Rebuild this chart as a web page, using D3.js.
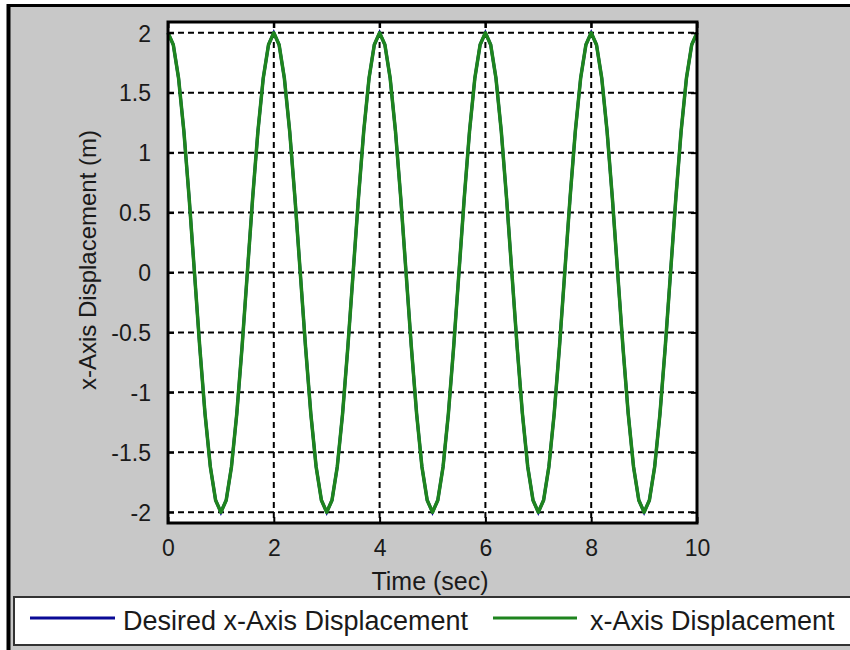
<!DOCTYPE html>
<html>
<head>
<meta charset="utf-8">
<script src="https://cdn.jsdelivr.net/npm/d3@7"></script>
<style>
  body { margin: 0; background: #ffffff; }
  text { font-family: "Liberation Sans", Arial, sans-serif; fill: #1a1a1a; }
</style>
</head>
<body>
<div id="elements"></div>
<script>
// time samples (sec)
var timeSec = [0,0.1,0.2,0.3,0.4,0.5,0.6,0.7,0.8,0.9,1,1.1,1.2,1.3,1.4,1.5,1.6,1.7,1.8,1.9,
  2,2.1,2.2,2.3,2.4,2.5,2.6,2.7,2.8,2.9,3,3.1,3.2,3.3,3.4,3.5,3.6,3.7,3.8,3.9,
  4,4.1,4.2,4.3,4.4,4.5,4.6,4.7,4.8,4.9,5,5.1,5.2,5.3,5.4,5.5,5.6,5.7,5.8,5.9,
  6,6.1,6.2,6.3,6.4,6.5,6.6,6.7,6.8,6.9,7,7.1,7.2,7.3,7.4,7.5,7.6,7.7,7.8,7.9,
  8,8.1,8.2,8.3,8.4,8.5,8.6,8.7,8.8,8.9,9,9.1,9.2,9.3,9.4,9.5,9.6,9.7,9.8,9.9,10];

// desired x displacement (m)
var desiredX = [2,1.9,1.62,1.18,0.62,0,-0.62,-1.18,-1.62,-1.9,-2,-1.9,-1.62,-1.18,-0.62,0,0.62,1.18,1.62,1.9,
  2,1.9,1.62,1.18,0.62,0,-0.62,-1.18,-1.62,-1.9,-2,-1.9,-1.62,-1.18,-0.62,0,0.62,1.18,1.62,1.9,
  2,1.9,1.62,1.18,0.62,0,-0.62,-1.18,-1.62,-1.9,-2,-1.9,-1.62,-1.18,-0.62,0,0.62,1.18,1.62,1.9,
  2,1.9,1.62,1.18,0.62,0,-0.62,-1.18,-1.62,-1.9,-2,-1.9,-1.62,-1.18,-0.62,0,0.62,1.18,1.62,1.9,
  2,1.9,1.62,1.18,0.62,0,-0.62,-1.18,-1.62,-1.9,-2,-1.9,-1.62,-1.18,-0.62,0,0.62,1.18,1.62,1.9,2];

// actual x displacement (m), sits right on top of the desired one
var actualX = [2,1.9,1.62,1.18,0.62,0,-0.62,-1.18,-1.62,-1.9,-2,-1.9,-1.62,-1.18,-0.62,0,0.62,1.18,1.62,1.9,
  2,1.9,1.62,1.18,0.62,0,-0.62,-1.18,-1.62,-1.9,-2,-1.9,-1.62,-1.18,-0.62,0,0.62,1.18,1.62,1.9,
  2,1.9,1.62,1.18,0.62,0,-0.62,-1.18,-1.62,-1.9,-2,-1.9,-1.62,-1.18,-0.62,0,0.62,1.18,1.62,1.9,
  2,1.9,1.62,1.18,0.62,0,-0.62,-1.18,-1.62,-1.9,-2,-1.9,-1.62,-1.18,-0.62,0,0.62,1.18,1.62,1.9,
  2,1.9,1.62,1.18,0.62,0,-0.62,-1.18,-1.62,-1.9,-2,-1.9,-1.62,-1.18,-0.62,0,0.62,1.18,1.62,1.9,2];

var xTicks = [0, 2, 4, 6, 8, 10];
var yTicks = [-2, -1.5, -1, -0.5, 0, 0.5, 1, 1.5, 2];
var seriesNames = ["Desired x-Axis Displacement", "x-Axis Displacement"];
var seriesColors = ["#0a0a96", "#1e841e"];

var width = 850,
    height = 650;

var plot = {left: 168, right: 697, top: 22, bottom: 523};

var svg = d3.select("#elements").append("svg")
    .attr("width", width)
    .attr("height", height);

// window background + frame
svg.append("rect")
    .attr("x", 7).attr("y", 4)
    .attr("width", width - 7).attr("height", height - 4)
    .style("fill", "#c8c8c8");
svg.append("line")
    .attr("x1", 7).attr("x2", width).attr("y1", 5.5).attr("y2", 5.5)
    .style("stroke", "#000").style("stroke-width", 3);
svg.append("line")
    .attr("x1", 8.5).attr("x2", 8.5).attr("y1", 4).attr("y2", height)
    .style("stroke", "#000").style("stroke-width", 4);

var x = d3.scaleLinear()
    .domain([0, 10])
    .range([plot.left, plot.right]);

var y = d3.scaleLinear()
    .domain([-2.09, 2.09])
    .range([plot.bottom, plot.top]);

svg.append("rect")
    .attr("x", plot.left).attr("y", plot.top)
    .attr("width", plot.right - plot.left).attr("height", plot.bottom - plot.top)
    .style("fill", "#ffffff");

// dashed grid
svg.append("g").selectAll("line")
  .data(xTicks.slice(1, -1))
  .enter().append("line")
    .attr("x1", function(d) { return x(d); })
    .attr("x2", function(d) { return x(d); })
    .attr("y1", plot.top).attr("y2", plot.bottom)
    .style("stroke", "#000").style("stroke-width", 2)
    .style("stroke-dasharray", "6,4");

svg.append("g").selectAll("line")
  .data(yTicks)
  .enter().append("line")
    .attr("x1", plot.left).attr("x2", plot.right)
    .attr("y1", function(d) { return y(d); })
    .attr("y2", function(d) { return y(d); })
    .style("stroke", "#000").style("stroke-width", 2)
    .style("stroke-dasharray", "6,4");

// curves
var line = d3.line()
    .x(function(d, i) { return x(timeSec[i]); })
    .y(function(d) { return y(d); });

svg.append("path")
    .datum(desiredX)
    .attr("fill", "none")
    .attr("stroke", seriesColors[0])
    .attr("stroke-width", 3)
    .attr("d", line);

svg.append("path")
    .datum(actualX)
    .attr("fill", "none")
    .attr("stroke", seriesColors[1])
    .attr("stroke-width", 3.5)
    .attr("stroke-linejoin", "round")
    .attr("d", line);

// axes, ticks inside on all four sides
var bottomAxis = svg.append("g")
    .attr("transform", "translate(0," + plot.bottom + ")")
    .call(d3.axisBottom(x).tickValues(xTicks).tickSizeInner(-6).tickSizeOuter(0).tickPadding(17));
var topAxis = svg.append("g")
    .attr("transform", "translate(0," + plot.top + ")")
    .call(d3.axisTop(x).tickValues(xTicks).tickSizeInner(-6).tickSizeOuter(0));
topAxis.selectAll("text").remove();
var leftAxis = svg.append("g")
    .attr("transform", "translate(" + plot.left + ",0)")
    .call(d3.axisLeft(y).tickValues(yTicks).tickSizeInner(-6).tickSizeOuter(0).tickPadding(17)
      .tickFormat(function(d) { return String(d); }));
var rightAxis = svg.append("g")
    .attr("transform", "translate(" + plot.right + ",0)")
    .call(d3.axisRight(y).tickValues(yTicks).tickSizeInner(-6).tickSizeOuter(0));
rightAxis.selectAll("text").remove();

svg.selectAll(".domain").remove();
svg.selectAll(".tick line").style("stroke", "#000").style("stroke-width", 2);
svg.selectAll(".tick text")
    .style("font-family", "'Liberation Sans', Arial, sans-serif")
    .style("font-size", "23px")
    .style("fill", "#1a1a1a");
leftAxis.selectAll("text").attr("dy", "0.36em");
bottomAxis.selectAll("text").attr("dy", "0.71em");

svg.append("rect")
    .attr("x", plot.left).attr("y", plot.top)
    .attr("width", plot.right - plot.left).attr("height", plot.bottom - plot.top)
    .style("fill", "none").style("stroke", "#000").style("stroke-width", 3);

// axis labels
svg.append("text")
    .attr("x", 430)
    .attr("y", 590)
    .attr("text-anchor", "middle")
    .style("font-size", "25px")
    .text("Time (sec)");

svg.append("text")
    .attr("transform", "translate(96,260) rotate(-90)")
    .attr("text-anchor", "middle")
    .style("font-size", "24px")
    .text("x-Axis Displacement (m)");

// legend
svg.append("rect")
    .attr("x", 14).attr("y", 597)
    .attr("width", 860).attr("height", 48)
    .style("fill", "#ffffff").style("stroke", "#333").style("stroke-width", 2);

var legendX = [[30, 115, 123], [493, 577, 590]];
var legend = svg.append("g").selectAll("g")
  .data(seriesNames)
  .enter().append("g");

legend.append("line")
    .attr("x1", function(d, i) { return legendX[i][0]; })
    .attr("x2", function(d, i) { return legendX[i][1]; })
    .attr("y1", 618).attr("y2", 618)
    .style("stroke", function(d, i) { return seriesColors[i]; })
    .style("stroke-width", 3);

legend.append("text")
    .attr("x", function(d, i) { return legendX[i][2]; })
    .attr("y", 630)
    .style("font-size", "27px")
    .text(function(d) { return d; });
</script>
</body>
</html>
